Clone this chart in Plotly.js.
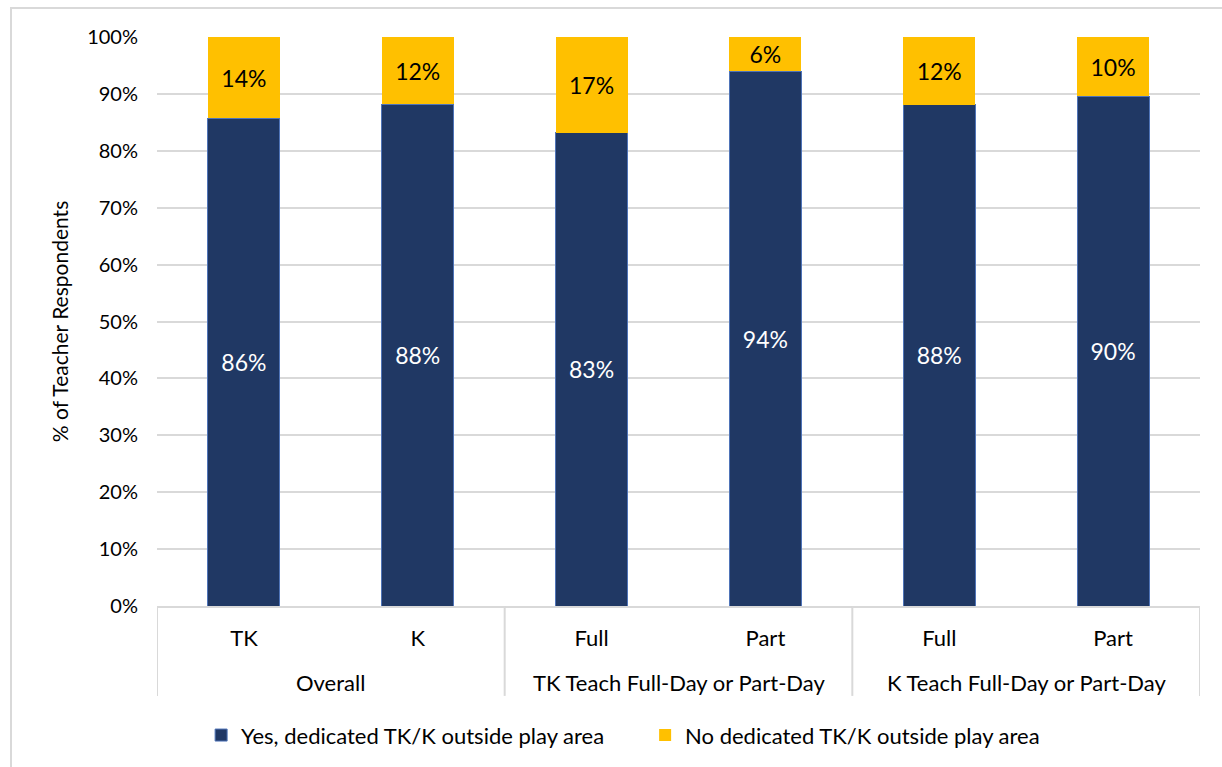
<!DOCTYPE html>
<html>
<head>
<meta charset="utf-8">
<script src="https://cdn.plot.ly/plotly-3.0.1.min.js"></script>
<style>
  body { margin: 0; background: #fff; }
  #frame { position: absolute; left: 10px; top: 7px; width: 1212px; height: 760px;
           border-top: 2px solid #d9d9d9; border-left: 2px solid #d9d9d9; }
  #chart { position: absolute; left: 0; top: 0; width: 1222px; height: 767px; }
</style>
</head>
<body>
<div id="frame"></div>
<div id="chart"></div>
<script>
// categories (two levels)
const groupNames = ['Overall', 'TK Teach Full-Day or Part-Day', 'K Teach Full-Day or Part-Day']
const groupSizes = [2, 2, 2]
const subs = ['TK', 'K', 'Full', 'Part', 'Full', 'Part']

// % of teacher respondents
const yesArea = [85.7, 88.2, 83.2, 94.0, 88.1, 89.6]
const noArea = [14.3, 11.8, 16.8, 6.0, 11.9, 10.4]

const yTicks = [0, 10, 20, 30, 40, 50, 60, 70, 80, 90, 100]
const yTickText = yTicks.map(v => v + '%')

const font = 'Lato, "Open Sans", sans-serif'
const lineGray = '#d9d9d9'

const xPos = subs.map((s, i) => i)

// group labels and divider lines under the axis
let annotations = []
let shapes = []
let start = 0
groupNames.forEach((g, gi) => {
  const n = groupSizes[gi]
  annotations.push({
    x: start + (n - 1) / 2, xref: 'x',
    y: -0.135, yref: 'paper', yanchor: 'middle',
    text: g, showarrow: false,
    font: { size: 22, family: font, color: '#000' }
  })
  shapes.push({
    type: 'line', xref: 'x', yref: 'paper',
    x0: start - 0.5, x1: start - 0.5, y0: 0, y1: -0.158,
    line: { color: lineGray, width: 2 }
  })
  start += n
})
shapes.push({
  type: 'line', xref: 'x', yref: 'paper',
  x0: start - 0.5, x1: start - 0.5, y0: 0, y1: -0.158,
  line: { color: lineGray, width: 2 }
})

const drawPlot = () => {
  Plotly.newPlot('chart', [
    {
      x: xPos,
      y: yesArea,
      type: 'bar',
      name: 'Yes, dedicated TK/K outside play area',
      marker: { color: '#203864', line: { color: '#4f74b8', width: 1 } },
      text: yesArea.map(v => Math.round(v) + '%'),
      textposition: 'inside',
      insidetextanchor: 'middle',
      textangle: 0,
      constraintext: 'none',
      textfont: { color: '#ffffff', size: 23, family: font },
      hoverinfo: 'skip'
    },
    {
      x: xPos,
      y: noArea,
      type: 'bar',
      name: 'No dedicated TK/K outside play area',
      marker: { color: '#ffc000' },
      text: noArea.map(v => Math.round(v) + '%'),
      textposition: 'inside',
      insidetextanchor: 'middle',
      textangle: 0,
      constraintext: 'none',
      textfont: { color: '#000000', size: 23, family: font },
      hoverinfo: 'skip'
    }
  ], {
    barmode: 'stack',
    bargap: 0.586,
    width: 1222,
    height: 767,
    margin: { l: 157, r: 22, t: 37, b: 160 },
    paper_bgcolor: 'rgba(0,0,0,0)',
    plot_bgcolor: '#ffffff',
    font: { family: font, size: 20, color: '#000000' },
    showlegend: true,
    legend: {
      orientation: 'h',
      x: 0.468, xanchor: 'center',
      y: -0.225, yanchor: 'middle',
      font: { size: 22, family: font },
      itemwidth: 30,
      entrywidth: 399,
      entrywidthmode: 'pixels',
      traceorder: 'normal'
    },
    xaxis: {
      range: [-0.5, subs.length - 0.5],
      tickvals: xPos,
      ticktext: subs,
      showgrid: false,
      zeroline: false,
      showline: true,
      linecolor: lineGray,
      linewidth: 2,
      ticks: '',
      ticklabelstandoff: 12,
      tickfont: { size: 22, family: font }
    },
    yaxis: {
      range: [0, 100],
      tickvals: yTicks,
      ticktext: yTickText,
      showgrid: true,
      gridcolor: lineGray,
      gridwidth: 2,
      zeroline: false,
      ticks: '',
      ticklabelstandoff: 18,
      tickfont: { size: 20, family: font },
      title: { text: '% of Teacher Respondents', font: { size: 21, family: font }, standoff: 12 }
    },
    annotations: annotations,
    shapes: shapes
  }, { displayModeBar: false, staticPlot: true })
}

drawPlot()
</script>
</body>
</html>
